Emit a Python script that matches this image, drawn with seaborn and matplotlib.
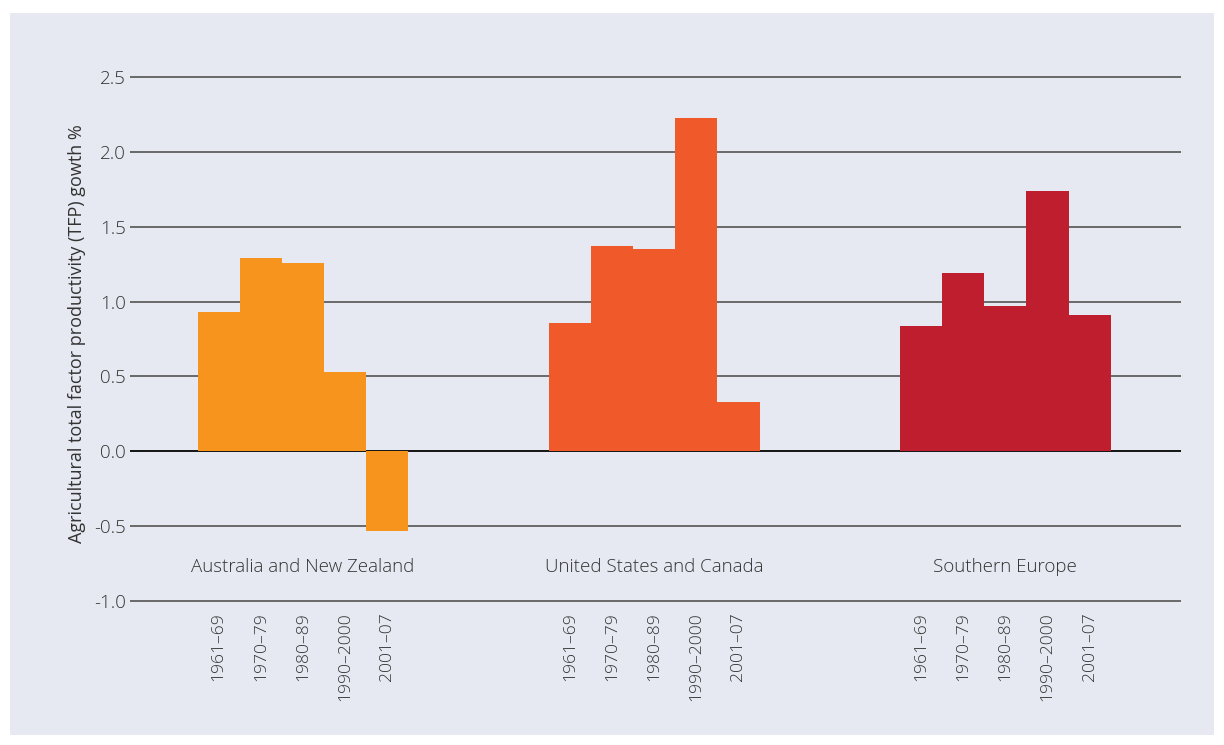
import matplotlib
matplotlib.use('Agg')
import matplotlib.pyplot as plt
from matplotlib.patches import Rectangle
import numpy as np
import pandas as pd
import seaborn as sns

# data
regions = ["Australia and New Zealand", "United States and Canada", "Southern Europe"]
periods = ["1961–69", "1970–79", "1980–89", "1990–2000", "2001–07"]
anz_growth = [0.93, 1.29, 1.26, 0.53, -0.53]
usc_growth = [0.855, 1.37, 1.35, 2.225, 0.33]
seu_growth = [0.835, 1.19, 0.97, 1.74, 0.91]
region_colors = ["#f7941e", "#f05a2b", "#be1e2e"]

panel_color = "#e6e9f1"
grid_color = "#5f5f5f"

sns.set_style("white")
plt.rcParams['font.family'] = ['Open Sans', 'DejaVu Sans']
plt.rcParams['font.weight'] = 'light'
plt.rcParams['text.color'] = '#333333'

df = pd.DataFrame({
    "region": np.repeat(regions, len(periods)),
    "period": periods * len(regions),
    "growth": anz_growth + usc_growth + seu_growth,
})

fig = plt.figure(figsize=(12.24, 7.45), dpi=100, facecolor="white")
fig.patches.append(Rectangle((10 / 1224, 10 / 745), 1204 / 1224, 722 / 745,
                             transform=fig.transFigure, facecolor=panel_color,
                             edgecolor="none", zorder=-10))
ax = fig.add_axes([130 / 1224, 1 - 608.5 / 745, 1051 / 1224, 539 / 745])
ax.set_facecolor("none")

# one call per region so each gets its own colour, bars touch (gap=0)
centers = []
for region, color in zip(regions, region_colors):
    n_before = len(ax.patches)
    sns.barplot(data=df[df["region"] == region], x="region", y="growth",
                hue="period", order=regions, hue_order=periods,
                palette=[color] * len(periods), width=0.6, gap=0,
                saturation=1, linewidth=0, legend=False, ax=ax, zorder=3)
    for p in ax.patches[n_before:]:
        if np.isfinite(p.get_height()) and p.get_height() != 0:
            centers.append(p.get_x() + p.get_width() / 2)

centers = sorted(centers)
ax.set_xticks(centers)
ax.set_xticklabels(periods * len(regions), rotation=90, fontsize=12.6,
                   color="#333333")
ax.set_xlim(-0.4925, 2.5)

ax.set_ylim(-1.05, 2.55)
ax.set_yticks(np.arange(-1.0, 2.51, 0.5))
ax.set_yticklabels([f"{v:.1f}" for v in np.arange(-1.0, 2.51, 0.5)],
                   fontsize=13.5, color="#333333")
ax.tick_params(axis="both", length=0, pad=3)
ax.yaxis.grid(True, color=grid_color, linewidth=1.3, zorder=1)
ax.set_axisbelow(True)
ax.axhline(0, color="#111111", linewidth=1.3, zorder=2)
for s in ax.spines.values():
    s.set_visible(False)

for i, region in enumerate(regions):
    ax.text(i, -0.77, region, ha="center", va="center", fontsize=13.5,
            color="#333333")

ax.set_xlabel("")
ax.set_ylabel("Agricultural total factor productivity (TFP) gowth %",
              fontsize=13.0, color="#333333", labelpad=6, y=0.51)

fig.savefig("out.png", dpi=100, facecolor=fig.get_facecolor())
